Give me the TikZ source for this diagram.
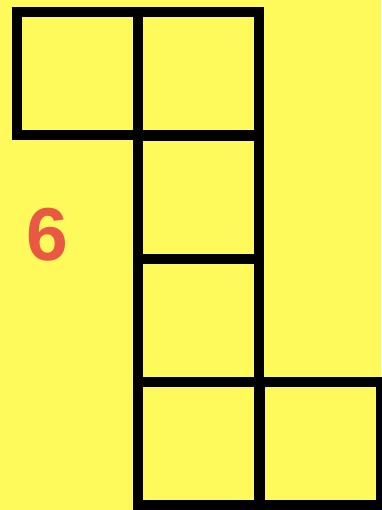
\documentclass[tikz,border=0pt]{standalone}
\usepackage{fontspec}
\setmainfont{Liberation Sans}
\usepackage{tikz}
\usepackage{xcolor}
\usetikzlibrary{positioning}
\definecolor{cYellow}{RGB}{255,250,92}
\definecolor{cRed}{RGB}{232,88,66}
\tikzset{
    cell/.style ={rectangle, draw=black, line width=10pt, minimum width=121pt, minimum height=123pt, inner sep=0pt, outer sep=0pt},
    numlabel/.style={font=\fontsize{75}{75}\selectfont\bfseries, text=cRed, inner sep=0pt},
}

\begin{document}
\begin{tikzpicture}[x=1pt, y=-1pt]
        \fill[cYellow] (0,0) rectangle (381,510);
        \useasboundingbox (0,0) rectangle (381,510);

        \node[cell] (topleft) at (77,74) {};
        \node[cell] (topright) at (198.5,74) {};
        \node[cell] (midone) at (198.5,197.5) {};
        \node[cell] (midtwo) at (198.5,320.5) {};
        \node[cell] (botleft) at (198.5,443.5) {};
        \node[cell] (botright) at (320,443.5) {};

        \node[numlabel] (six) at (47,235) {6};
    \end{tikzpicture}
\end{document}
